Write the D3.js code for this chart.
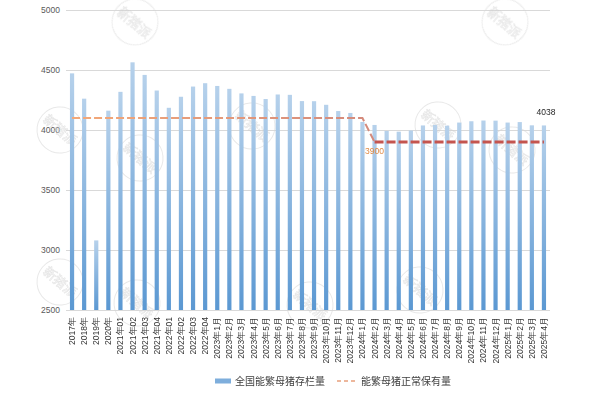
<!DOCTYPE html>
<html>
<head>
<meta charset="utf-8">
<script src="https://cdn.jsdelivr.net/npm/d3@7"></script>
<style>
html,body{margin:0;padding:0;background:#fff;}
svg{display:block;font-family:"Liberation Sans","Noto Sans CJK SC",sans-serif;}
</style>
</head>
<body>
<svg id="chart" width="600" height="400"></svg>
<script>
const categories = ["2017年","2018年","2019年","2020年","2021年01","2021年02","2021年03","2021年04","2022年01","2022年02","2022年03","2022年04",
"2023年1月","2023年2月","2023年3月","2023年4月","2023年5月","2023年6月","2023年7月","2023年8月","2023年9月","2023年10月","2023年11月","2023年12月",
"2024年1月","2024年2月","2024年3月","2024年4月","2024年5月","2024年6月","2024年7月","2024年8月","2024年9月","2024年10月","2024年11月","2024年12月",
"2025年1月","2025年2月","2025年3月","2025年4月"];
const sowStock = [4472,4261,3080,4161,4318,4564,4459,4329,4185,4277,4362,4390,
4367,4343,4305,4284,4258,4296,4293,4241,4240,4210,4158,4142,
4067,4042,3992,3986,3996,4038,4042,4036,4062,4073,4079,4078,
4062,4066,4039,4038];
const normalLevel = [4100,4100,4100,4100,4100,4100,4100,4100,4100,4100,4100,4100,
4100,4100,4100,4100,4100,4100,4100,4100,4100,4100,4100,4100,
4100,3900,3900,3900,3900,3900,3900,3900,3900,3900,3900,3900,
3900,3900,3900,3900];
const yTicks = [2500,3000,3500,4000,4500,5000];
const seriesNames = ["全国能繁母猪存栏量","能繁母猪正常保有量"];
const watermarkText = "新猪派";

const svg = d3.select("#chart");
const m = {left:66, right:50, top:10, bottom:90};
const W = 600, H = 400;
const x = d3.scaleBand().domain(categories).range([m.left, W - m.right]).paddingInner(0).paddingOuter(0);
const y = d3.scaleLinear().domain([2500,5000]).range([H - m.bottom, m.top]);

const defs = svg.append("defs");
const bg = defs.append("linearGradient").attr("id","barGrad").attr("x1",0).attr("y1",0).attr("x2",0).attr("y2",1);
bg.append("stop").attr("offset","0%").attr("stop-color","#b6d1eb");
bg.append("stop").attr("offset","100%").attr("stop-color","#5b98d2");
const lg = defs.append("linearGradient").attr("id","lineGrad").attr("gradientUnits","userSpaceOnUse")
  .attr("x1", x(categories[0])).attr("x2", x(categories[25])).attr("y1",0).attr("y2",0);
lg.append("stop").attr("offset","0%").attr("stop-color","#f4a978");
lg.append("stop").attr("offset","100%").attr("stop-color","#d48a7c");

// grid
const yAxis = d3.axisLeft(y).tickValues(yTicks).tickFormat(d3.format("d")).tickSize(-(W - m.left - m.right)).tickPadding(6);
const gy = svg.append("g").attr("transform",`translate(${m.left},0)`).call(yAxis);
gy.select(".domain").remove();
gy.selectAll(".tick line").attr("stroke","#d9d9d9").attr("stroke-width",1);
gy.selectAll(".tick text").attr("fill","#595959").attr("font-size","8.5px");

// watermarks (decorative stamps)
const stamps = [[135,22],[505,22],[60,130],[140,158],[252,126],[438,125],[512,150],[60,282],[137,303],[310,305],[420,290]];
const wm = svg.append("g").attr("opacity",0.55);
stamps.forEach(([sx,sy])=>{
  const g = wm.append("g").attr("transform",`translate(${sx},${sy}) rotate(40)`);
  g.append("circle").attr("r",23).attr("fill","none").attr("stroke","#d6d6d6").attr("stroke-width",1);
  g.append("text").attr("text-anchor","middle").attr("dy","0.35em").attr("font-size","13px")
    .attr("fill","none").attr("stroke","#d0d0d0").attr("stroke-width",0.6).text(watermarkText);
});

// bars
const bw = 4.2;
svg.append("g").selectAll("rect").data(sowStock).join("rect")
  .attr("x",(d,i)=> x(categories[i]) + x.bandwidth()/2 - bw/2)
  .attr("y", d=> y(d))
  .attr("width", bw)
  .attr("height", d=> y(2500) - y(d))
  .attr("fill","url(#barGrad)");

// x axis labels
const xAxis = d3.axisBottom(x).tickSize(0).tickPadding(0);
const gx = svg.append("g").attr("transform",`translate(0,${y(2500)})`).call(xAxis);
gx.select(".domain").remove();
gx.selectAll(".tick text")
  .attr("transform","rotate(-90)")
  .attr("text-anchor","end")
  .attr("x",-7).attr("y",0).attr("dy","0.35em")
  .attr("fill","#333").attr("font-size","8.5px");

// line
const cx = i => x(categories[i]) + x.bandwidth()/2;
const lineGen = d3.line().x(d=>cx(d.i)).y(d=>y(d.v));
const pts = normalLevel.map((v,i)=>({i,v}));
svg.append("path").datum(pts.slice(0,26)).attr("d",lineGen)
  .attr("fill","none").attr("stroke","url(#lineGrad)").attr("stroke-width",2).attr("stroke-dasharray","8,3");
svg.append("path").datum(pts.slice(25)).attr("d",lineGen)
  .attr("fill","none").attr("stroke","#c4554f").attr("stroke-width",2.8).attr("stroke-dasharray","9,3");

// labels
svg.append("text").attr("x",cx(25)).attr("y",y(normalLevel[25])+12).attr("text-anchor","middle")
  .attr("font-size","8.5px").attr("fill","#e08a45").text(normalLevel[25]);
const last = sowStock.length-1;
svg.append("text").attr("x",cx(last)+2).attr("y",y(sowStock[last])-10).attr("text-anchor","middle")
  .attr("font-size","8.5px").attr("fill","#262626").text(sowStock[last]);

// legend
const ly = 381;
svg.append("rect").attr("x",215).attr("y",ly-2.5).attr("width",16).attr("height",5).attr("fill","#7eaedc");
svg.append("text").attr("x",235).attr("y",ly).attr("dy","0.35em").attr("font-size","10px").attr("fill","#404040").text(seriesNames[0]);
svg.append("line").attr("x1",337).attr("x2",355).attr("y1",ly).attr("y2",ly)
  .attr("stroke","#e8a07c").attr("stroke-width",1.5).attr("stroke-dasharray","4,3");
svg.append("text").attr("x",361).attr("y",ly).attr("dy","0.35em").attr("font-size","10px").attr("fill","#404040").text(seriesNames[1]);
</script>
</body>
</html>
